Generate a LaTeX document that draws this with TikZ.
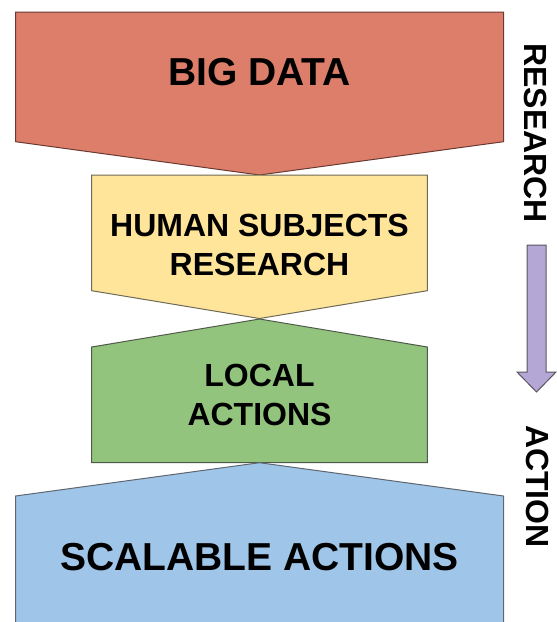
\documentclass[tikz,border=0pt]{standalone}
\usepackage{fontspec}
\setmainfont{Liberation Sans}
\definecolor{bigfill}{HTML}{DD7E6B}
\definecolor{bigline}{HTML}{6A3A30}
\definecolor{humfill}{HTML}{FFE599}
\definecolor{humline}{HTML}{6E6A55}
\definecolor{locfill}{HTML}{93C47D}
\definecolor{locline}{HTML}{4E5A4A}
\definecolor{scafill}{HTML}{9FC5E8}
\definecolor{scaline}{HTML}{5E6670}
\definecolor{arrfill}{HTML}{B4A7D6}
\definecolor{arrline}{HTML}{5A5560}
\begin{document}
\begin{tikzpicture}[x=1pt,y=-1pt,
  stage/.style={line width=1pt, line join=miter},
  biglabel/.style={font=\bfseries\fontsize{39}{47}\selectfont, inner sep=0pt, anchor=base},
  smalllabel/.style={font=\bfseries\fontsize{32}{39.5}\selectfont, align=center, inner sep=0pt},
  sidelabel/.style={font=\bfseries\fontsize{32}{38}\selectfont, inner sep=0pt, rotate=-90, anchor=center}]
\useasboundingbox (0,0) rectangle (557,622);
\clip (0,0) rectangle (557,622);

% stage shapes, from top to bottom
\draw[stage, fill=bigfill, draw=bigline]
  (15.5,12) -- (503.5,12) -- (503.5,141.7) -- (259.5,175) -- (15.5,141.7) -- cycle;
\draw[stage, fill=humfill, draw=humline]
  (91.7,175) -- (427.3,175) -- (427.3,290.7) -- (259.5,318.5) -- (91.7,290.7) -- cycle;
\draw[stage, fill=locfill, draw=locline]
  (259.5,319) -- (427.3,347) -- (427.3,462.5) -- (91.7,462.5) -- (91.7,347) -- cycle;
\draw[stage, fill=scafill, draw=scaline]
  (259.5,462.7) -- (503.5,496) -- (503.5,640) -- (15.5,640) -- (15.5,496) -- cycle;

% stage labels (base anchor of a two-line label sits on its last line)
\node[biglabel] (bigdata) at (259.5,85) {BIG DATA};
\node[smalllabel, anchor=base] (human) at (259.5,275.5) {HUMAN SUBJECTS\\RESEARCH};
\node[smalllabel, anchor=base] (local) at (259.5,425.5) {LOCAL\\ACTIONS};
\node[biglabel] (scalable) at (259.5,570) {SCALABLE ACTIONS};

% direction arrow and side labels
\draw[line width=1pt, fill=arrfill, draw=arrline]
  (527,245) -- (546,245) -- (546,372) -- (556,372) -- (536.5,392)
  -- (517,372) -- (527,372) -- cycle;
\node[sidelabel] (research) at (536,133) {RESEARCH};
\node[sidelabel] (action) at (537.5,486.5) {ACTION};
\end{tikzpicture}
\end{document}
